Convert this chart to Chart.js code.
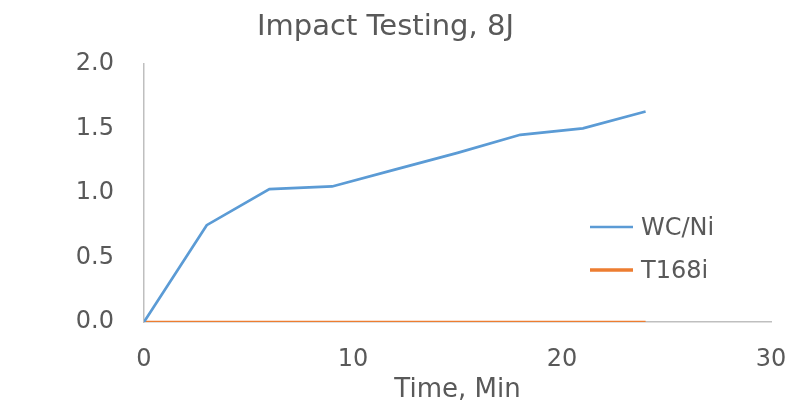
<!DOCTYPE html>
<html>
<head>
<meta charset="utf-8">
<script src="https://cdn.jsdelivr.net/npm/chart.js@4"></script>
<style>
html,body{margin:0;padding:0;background:#fff;}
#wrap{width:804px;height:408px;}
</style>
</head>
<body>
<div id="wrap"><canvas id="c" width="804" height="408"></canvas></div>
<script>
const titleText = "Impact Testing, 8J";
const xTitle = "Time, Min";
const times = [0, 3, 6, 9, 12, 15, 18, 21, 24];
const wcNi = [0, 0.75, 1.03, 1.05, 1.18, 1.31, 1.45, 1.50, 1.63];
const t168i = [0, 0, 0, 0, 0, 0, 0, 0, 0];
const seriesNames = ["WC/Ni", "T168i"];
const seriesColors = ["#5B9BD5", "#ED7D31"];

const FONT = "'DejaVu Sans', 'Open Sans', sans-serif";
const TEXT = "#595959";

const legendPlugin = {
  id: 'insideLegend',
  afterDraw(chart) {
    const ctx = chart.ctx;
    ctx.save();
    ctx.font = "24px " + FONT;
    ctx.fillStyle = TEXT;
    ctx.textBaseline = 'middle';
    chart.data.datasets.forEach((ds, i) => {
      const y = 227 + i * 43;
      ctx.strokeStyle = ds.borderColor;
      ctx.lineWidth = i === 0 ? 2.5 : 3.5;
      ctx.beginPath();
      ctx.moveTo(590, y);
      ctx.lineTo(633, y);
      ctx.stroke();
      ctx.fillText(ds.label, 641, y + 2);
    });
    ctx.restore();
  }
};

new Chart(document.getElementById('c'), {
  type: 'line',
  data: {
    datasets: [
      { label: seriesNames[0], data: times.map((t, i) => ({x: t, y: wcNi[i]})), borderColor: seriesColors[0], backgroundColor: seriesColors[0], borderWidth: 2.7, pointRadius: 0, tension: 0 },
      { label: seriesNames[1], data: times.map((t, i) => ({x: t, y: t168i[i]})), borderColor: seriesColors[1], backgroundColor: seriesColors[1], borderWidth: 2.5, pointRadius: 0, tension: 0 }
    ]
  },
  options: {
    responsive: false,
    animation: false,
    events: [],
    layout: { padding: { left: 0, right: 33, top: 0, bottom: 0 } },
    plugins: {
      legend: { display: false },
      tooltip: { enabled: false },
      title: {
        display: true,
        text: titleText,
        color: TEXT,
        font: { family: FONT, size: 29, weight: 'normal', lineHeight: 1.2 },
        padding: { top: 10, bottom: 19 }
      }
    },
    scales: {
      x: {
        type: 'linear',
        min: 0, max: 30,
        ticks: { stepSize: 10, color: TEXT, font: { family: FONT, size: 24 }, padding: 23, maxRotation: 0 },
        grid: { display: false, drawTicks: false },
        border: { display: true, color: '#BFBFBF', width: 1.5 },
        title: { display: true, text: xTitle, color: TEXT, font: { family: FONT, size: 26 }, padding: { top: 0, bottom: 2 } },
        afterFit(s) { s.height = 86; s.paddingRight = 0; s.paddingLeft = 0; }
      },
      y: {
        min: 0, max: 2,
        ticks: { stepSize: 0.5, color: TEXT, font: { family: FONT, size: 24 }, padding: 30, callback: v => Number(v).toFixed(1) },
        grid: { display: false, drawTicks: false },
        border: { display: true, color: '#BFBFBF', width: 1.5 },
        afterFit(s) { s.width = 144; }
      }
    }
  },
  plugins: [legendPlugin]
});
</script>
</body>
</html>
